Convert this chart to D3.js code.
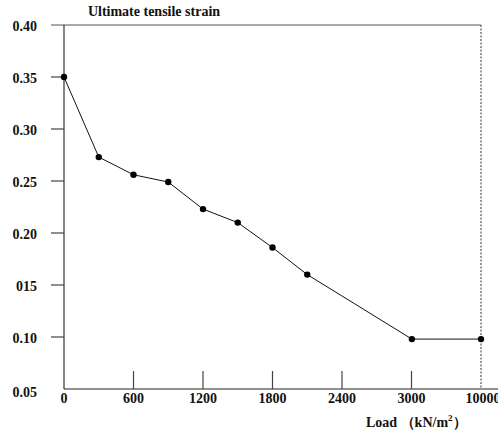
<!DOCTYPE html>
<meta charset="utf-8">
<script src="https://d3js.org/d3.v7.min.js"></script>
<style>
body { margin: 0; background: #fff; }
text { font-family: "Liberation Serif", "Times New Roman", serif; font-weight: bold; fill: #111; }
</style>
<div id="chart"></div>
<script>
// data
var loads   = [0, 300, 600, 900, 1200, 1500, 1800, 2100, 3040, 10000];
var strains = [0.350, 0.273, 0.256, 0.249, 0.223, 0.210, 0.186, 0.160, 0.098, 0.098];
var xTicks  = [0, 600, 1200, 1800, 2400, 3000, 10000];
var yTicks  = [0.05, 0.10, 0.15, 0.20, 0.25, 0.30, 0.35, 0.40];
var yLabels = ["0.05", "0.10", "015", "0.20", "0.25", "0.30", "0.35", "0.40"];

var W = 498, H = 434;
var pLeft = 64, pRight = 481, pTop = 25, pBottom = 389;

var svg = d3.select("#chart").append("svg")
  .attr("width", W).attr("height", H);

// x scale is broken between 3000 and 10000
var x3000 = pLeft + (pRight - pLeft) * 5 / 6;
var x = d3.scaleLinear()
  .domain([0, 3000, 10000])
  .range([pLeft, x3000, pRight]);

var y = d3.scaleLinear()
  .domain([0.05, 0.40])
  .range([pBottom, pTop]);

// frame
svg.append("line")
  .attr("x1", pLeft - 13).attr("x2", pRight)
  .attr("y1", y(0.40)).attr("y2", y(0.40))
  .attr("stroke", "#555").attr("stroke-width", 1.2);
svg.append("line")
  .attr("x1", pRight).attr("x2", pRight)
  .attr("y1", pTop).attr("y2", pBottom)
  .attr("stroke", "#333").attr("stroke-dasharray", "2,1.5");
svg.append("line")
  .attr("x1", pLeft).attr("x2", pLeft)
  .attr("y1", pTop).attr("y2", pBottom)
  .attr("stroke", "#333").attr("stroke-width", 1.2);
svg.append("line")
  .attr("x1", pLeft).attr("x2", W)
  .attr("y1", pBottom).attr("y2", pBottom)
  .attr("stroke", "#222").attr("stroke-width", 1.2);

// y ticks (outside) and labels
yTicks.forEach(function(v, i) {
  if (v > 0.05 && v < 0.40) {
    svg.append("line")
      .attr("x1", pLeft - 13).attr("x2", pLeft)
      .attr("y1", y(v)).attr("y2", y(v))
      .attr("stroke", "#444").attr("stroke-width", 1.2);
  }
  svg.append("text")
    .attr("x", 37).attr("y", y(v) + (v == 0.05 ? 8 : 5.5))
    .attr("text-anchor", "end")
    .style("font-size", "14px")
    .text(yLabels[i]);
});

// x ticks (inside) and labels
xTicks.forEach(function(v) {
  if (v > 0 && v < 10000) {
    svg.append("line")
      .attr("x1", x(v)).attr("x2", x(v))
      .attr("y1", pBottom - 18).attr("y2", pBottom)
      .attr("stroke", "#444").attr("stroke-width", 1.2);
  }
  svg.append("text")
    .attr("x", x(v) + (v == 10000 ? 2 : 0)).attr("y", pBottom + 14)
    .attr("text-anchor", "middle")
    .style("font-size", "14px")
    .text(v);
});

// line and points
var pts = loads.map(function(d, i) { return [x(d), y(strains[i])]; });
svg.append("path")
  .attr("d", d3.line()(pts))
  .attr("fill", "none").attr("stroke", "#111").attr("stroke-width", 1);
svg.selectAll("circle").data(pts).enter().append("circle")
  .attr("cx", function(d) { return d[0]; })
  .attr("cy", function(d) { return d[1]; })
  .attr("r", 3.2).attr("fill", "#000");

// titles
svg.append("text")
  .attr("x", 154).attr("y", 16)
  .attr("text-anchor", "middle")
  .style("font-size", "14px")
  .text("Ultimate tensile strain");

var xt = svg.append("text")
  .attr("x", 366).attr("y", 427)
  .style("font-size", "14px");
xt.append("tspan").text("Load\u00a0\uff08kN/m");
xt.append("tspan").attr("dy", -6).style("font-size", "9px").text("2");
xt.append("tspan").attr("dy", 6).text("\uff09");
</script>
